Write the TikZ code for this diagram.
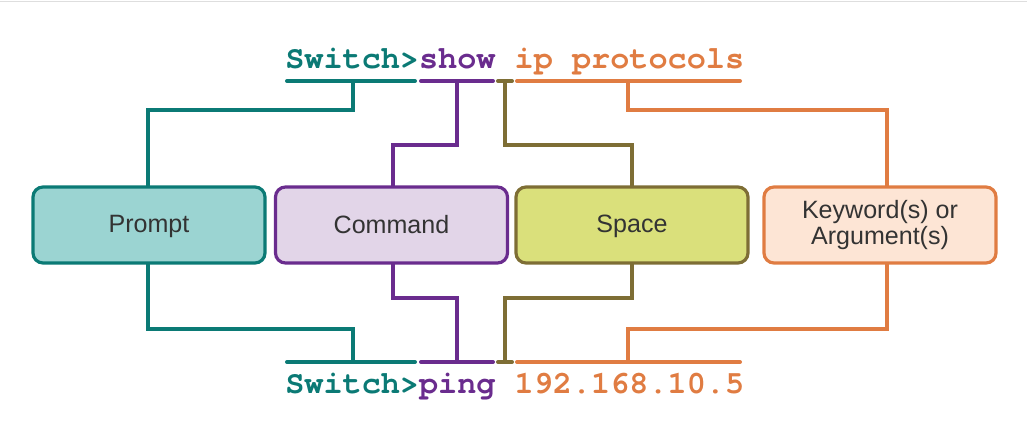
\documentclass[tikz,border=0pt]{standalone}
\usepackage{fontspec}
\setmainfont{Liberation Sans}
\newfontfamily\codefont{texgyrecursor}[Extension=.otf,UprightFont=*-regular,BoldFont=*-bold]
\definecolor{cteal}{HTML}{0B7A75}
\definecolor{cpurple}{HTML}{6A2C8E}
\definecolor{colive}{HTML}{7E6E35}
\definecolor{corange}{HTML}{E07C42}
\definecolor{fteal}{HTML}{9BD4D2}
\definecolor{fpurple}{HTML}{E2D5E8}
\definecolor{folive}{HTML}{DAE07B}
\definecolor{forange}{HTML}{FDE5D5}
\definecolor{ctext}{HTML}{333333}
\newcommand{\boxstrut}{\rule[-3pt]{0pt}{18pt}}
\begin{document}
\begin{tikzpicture}[x=0.75pt,y=-0.75pt,
  box/.style={draw,line width=2.4pt,rounded corners=7.5pt,minimum width=174pt,minimum height=57pt,inner sep=0pt,text=ctext,font=\fontsize{18.8}{19.5}\selectfont,align=center},
  wire/.style={line width=3pt},
  uline/.style={line width=3pt,line cap=round},
  code/.style={anchor=base west,inner sep=0pt,font=\codefont\bfseries\fontsize{23.9}{26}\selectfont}]
\useasboundingbox (0,0) rectangle (1027,424);
\draw[line width=1.2pt,color=black!13] (0,1.5) -- (1027,1.5);
% boxes
\node[box,draw=cteal,fill=fteal] (prompt) at (149,225) {\boxstrut Prompt};
\node[box,draw=cpurple,fill=fpurple] (command) at (391.5,225) {\boxstrut Command};
\node[box,draw=colive,fill=folive] (space) at (632,225) {\boxstrut Space};
\node[box,draw=corange,fill=forange] (keyword) at (880,225) {Keyword(s) or\\Argument(s)};
% texts
\node[code] (top) at (285,69) {\textcolor{cteal}{Switch>}\textcolor{cpurple}{show}\textcolor{corange}{\ ip protocols}};
\node[code] (bot) at (285,393) {\textcolor{cteal}{Switch>}\textcolor{cpurple}{ping}\textcolor{corange}{\ 192.168.10.5}};
% underline coordinates
\coordinate (ta1) at (287,81); \coordinate (ta2) at (415,81);
\coordinate (tb1) at (421,81); \coordinate (tb2) at (493,81);
\coordinate (tc1) at (498,81); \coordinate (tc2) at (512,81);
\coordinate (td1) at (517,81); \coordinate (td2) at (740,81);
\coordinate (ba1) at (287,362); \coordinate (ba2) at (415,362);
\coordinate (bb1) at (421,362); \coordinate (bb2) at (493,362);
\coordinate (bc1) at (498,362); \coordinate (bc2) at (512,362);
\coordinate (bd1) at (517,362); \coordinate (bd2) at (740,362);
\draw[uline,cteal] (ta1) -- (ta2);
\draw[uline,cpurple] (tb1) -- (tb2);
\draw[uline,colive] (tc1) -- (tc2);
\draw[uline,corange] (td1) -- (td2);
\draw[uline,cteal] (ba1) -- (ba2);
\draw[uline,cpurple] (bb1) -- (bb2);
\draw[uline,colive] (bc1) -- (bc2);
\draw[uline,corange] (bd1) -- (bd2);
% top connectors
\draw[wire,cteal] (353,81) -- (353,110) -- (148,110) -- (148,187.5);
\draw[wire,cpurple] (457,81) -- (457,145) -- (393,145) -- (393,187.5);
\draw[wire,colive] (505,81) -- (505,145) -- (632,145) -- (632,187.5);
\draw[wire,corange] (628,81) -- (628,110) -- (887,110) -- (887,187.5);
% bottom connectors
\draw[wire,cteal] (148,262.5) -- (148,329) -- (353,329) -- (353,362);
\draw[wire,cpurple] (393,262.5) -- (393,298) -- (457,298) -- (457,362);
\draw[wire,colive] (632,262.5) -- (632,298) -- (505,298) -- (505,362);
\draw[wire,corange] (887,262.5) -- (887,329) -- (628,329) -- (628,362);
\end{tikzpicture}
\end{document}
